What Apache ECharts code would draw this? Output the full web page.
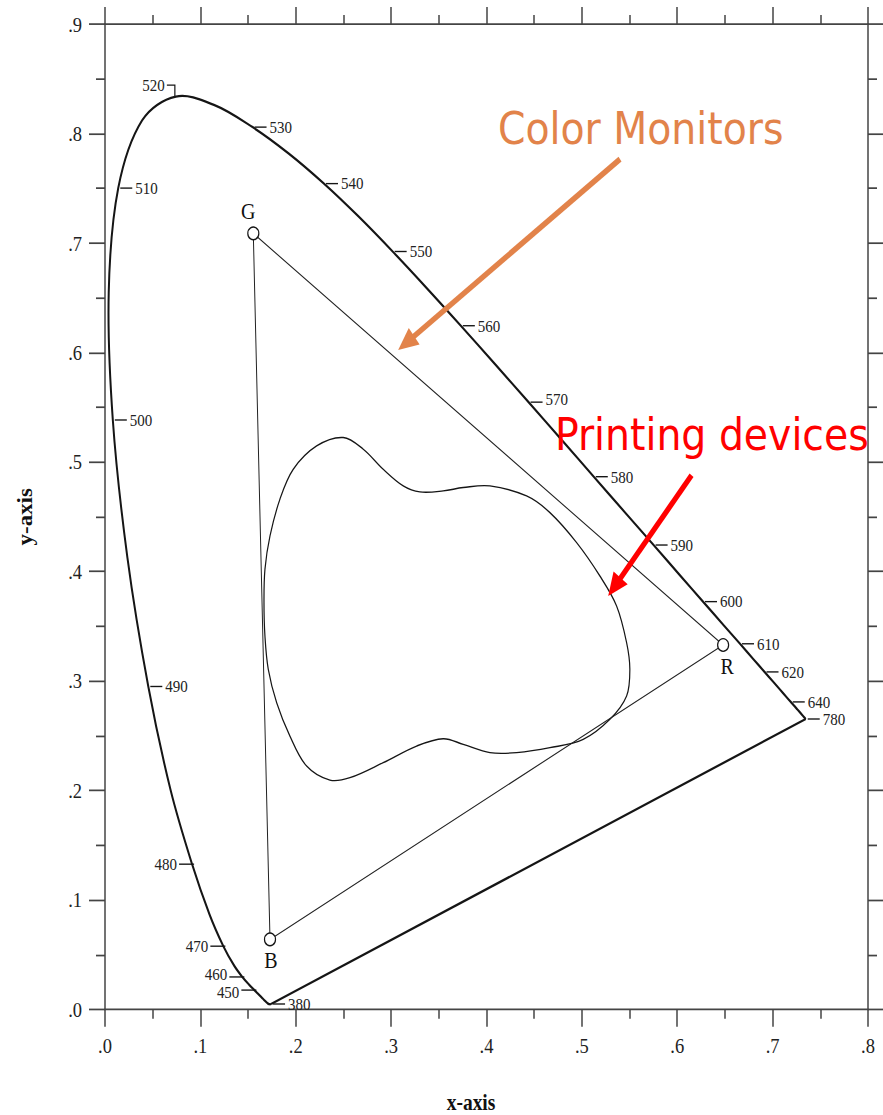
<!DOCTYPE html>
<html>
<head>
<meta charset="utf-8">
<script src="https://cdn.jsdelivr.net/npm/echarts@6/dist/echarts.min.js"></script>
<style>
  html, body { margin: 0; padding: 0; background: #fff; width: 883px; height: 1115px; overflow: hidden; }
  /* the diagram is drawn with square-ish units and stretched vertically */
  #chart { width: 883px; height: 972px; transform: scaleY(1.14712); transform-origin: 0 0; }
</style>
</head>
<body>
<div id="chart"></div>
<script>
// CIE 1931 spectral locus (chromaticity x, y by wavelength in nm)
const wavelengths = [380, 390, 400, 410, 420, 425, 430, 435, 440, 445, 450, 455, 460, 465, 470, 475, 480, 485, 490, 495,
  500, 505, 510, 515, 520, 525, 530, 535, 540, 545, 550, 555, 560, 565, 570, 575, 580, 585, 590, 595,
  600, 605, 610, 615, 620, 625, 630, 635, 640, 645, 650, 660, 680, 700, 780];
const locusX = [0.1741, 0.1738, 0.1733, 0.1726, 0.1714, 0.1703, 0.1689, 0.1669, 0.1644, 0.1611, 0.1566, 0.1510, 0.1440, 0.1355, 0.1241, 0.1096, 0.0913, 0.0687, 0.0454, 0.0235,
  0.0082, 0.0039, 0.0139, 0.0389, 0.0743, 0.1142, 0.1547, 0.1929, 0.2296, 0.2658, 0.3016, 0.3373, 0.3731, 0.4087, 0.4441, 0.4788, 0.5125, 0.5448, 0.5752, 0.6029,
  0.6270, 0.6482, 0.6658, 0.6801, 0.6915, 0.7006, 0.7079, 0.7140, 0.7190, 0.7230, 0.7260, 0.7300, 0.7334, 0.7347, 0.7347];
const locusY = [0.0050, 0.0049, 0.0048, 0.0048, 0.0051, 0.0058, 0.0069, 0.0086, 0.0109, 0.0138, 0.0177, 0.0227, 0.0297, 0.0399, 0.0578, 0.0868, 0.1327, 0.2007, 0.2950, 0.4127,
  0.5384, 0.6548, 0.7502, 0.8120, 0.8338, 0.8262, 0.8059, 0.7816, 0.7543, 0.7243, 0.6923, 0.6589, 0.6245, 0.5896, 0.5547, 0.5202, 0.4866, 0.4544, 0.4242, 0.3965,
  0.3725, 0.3514, 0.3340, 0.3197, 0.3083, 0.2993, 0.2920, 0.2859, 0.2809, 0.2770, 0.2740, 0.2700, 0.2666, 0.2653, 0.2653];

// wavelengths that carry a tick label on the locus
const labeledWavelengths = [380, 450, 460, 470, 480, 490, 500, 510, 520, 530, 540, 550, 560, 570, 580, 590, 600, 610, 620, 640, 780];

// monitor primaries
const rgbNames = ['G', 'R', 'B'];
const rgbX = [0.1555, 0.6481, 0.1730];
const rgbY = [0.7088, 0.3329, 0.0640];

// printing gamut outline (closed)
const printX = [0.1667, 0.1677, 0.1712, 0.1800, 0.1939, 0.2114, 0.2358, 0.2568, 0.2917, 0.3267, 0.3546, 0.3756, 0.4036, 0.4316, 0.4665, 0.5014, 0.5294, 0.5469, 0.5503,
  0.5469, 0.5364, 0.5189, 0.4945, 0.4665, 0.4420, 0.4036, 0.3756, 0.3546, 0.3302, 0.3127, 0.2917, 0.2708, 0.2498, 0.2219, 0.1974, 0.1834, 0.1730, 0.1677];
const printY = [0.3719, 0.3411, 0.3107, 0.2802, 0.2497, 0.2223, 0.2095, 0.2117, 0.2254, 0.2406, 0.2473, 0.2421, 0.2346, 0.2346, 0.2391, 0.2467, 0.2650, 0.2863, 0.3107,
  0.3351, 0.3685, 0.3959, 0.4264, 0.4538, 0.4690, 0.4782, 0.4767, 0.4736, 0.4727, 0.4782, 0.4934, 0.5117, 0.5224, 0.5147, 0.4934, 0.4660, 0.4325, 0.4020];

// axis tick labels
const xTickLabels = ['.0', '.1', '.2', '.3', '.4', '.5', '.6', '.7', '.8'];
const yTickLabels = ['.0', '.1', '.2', '.3', '.4', '.5', '.6', '.7', '.8', '.9'];

// ---- layout / styling ----
const SERIF = '"Liberation Serif", "Times New Roman", serif';
const SANS = '"DejaVu Sans", Verdana, sans-serif';
const AXIS_COLOR = '#444';
const INK = '#151515';

// which way each wavelength tick points (default: right) and small caption nudges
const tickSide = { 450: 'left', 460: 'left', 470: 'left', 480: 'left', 520: 'up' };
const tickNudge = { 450: 1.5, 460: -2.5, 570: -3 };

// placement of the G / R / B captions
const rgbLabel = {
  G: { position: 'top', distance: 3, offset: [-5, 0] },
  R: { position: 'bottom', distance: 3, offset: [4, 0] },
  B: { position: 'bottom', distance: 2, offset: [1, 0] }
};

// callouts: caption anchor, arrow tail and arrow tip (in chart units)
const notes = [
  { text: 'Color Monitors', color: '#E2834A', at: [0.412, 0.805], from: [0.540, 0.7767], to: [0.3074, 0.6024] },
  { text: 'Printing devices', color: '#FF0000', at: [0.4717, 0.5255], from: [0.615, 0.4879], to: [0.5276, 0.3777] }
];

const lineStyleAxis = { color: AXIS_COLOR, width: 1.5 };

function xAxisCfg(pos) {
  return {
    type: 'value', min: 0, max: 0.8, interval: 0.1, position: pos,
    axisLine: { show: true, onZero: false, lineStyle: lineStyleAxis },
    axisTick: { show: true, length: 15, lineStyle: lineStyleAxis },
    minorTick: { show: true, splitNumber: 2, length: 8, lineStyle: lineStyleAxis },
    splitLine: { show: false },
    axisLabel: pos === 'bottom' ? {
      show: true, margin: 22, fontFamily: SERIF, fontSize: 18.5, color: '#222',
      formatter: v => xTickLabels[Math.round(v * 10)]
    } : { show: false }
  };
}
function yAxisCfg(pos) {
  return {
    type: 'value', min: 0, max: 0.9, interval: 0.1, position: pos,
    axisLine: { show: true, onZero: false, lineStyle: lineStyleAxis },
    axisTick: { show: true, length: 16, lineStyle: lineStyleAxis },
    minorTick: { show: true, splitNumber: 2, length: 9, lineStyle: lineStyleAxis },
    splitLine: { show: false },
    axisLabel: pos === 'left' ? {
      show: true, margin: 23, fontFamily: SERIF, fontSize: 18.5, color: '#222',
      formatter: v => yTickLabels[Math.round(v * 10)]
    } : { show: false }
  };
}

const xMain = xAxisCfg('bottom');
xMain.name = 'x-axis';
xMain.nameLocation = 'middle';
xMain.nameGap = 71;
xMain.nameTextStyle = { fontFamily: SERIF, fontWeight: 'bold', fontSize: 19.5, color: '#111', padding: [0, 31, 0, 0] };

const yMain = yAxisCfg('left');
yMain.name = 'y-axis';
yMain.nameLocation = 'middle';
yMain.nameGap = 70;
yMain.nameTextStyle = { fontFamily: SERIF, fontWeight: 'bold', fontSize: 20, color: '#111' };

const last = wavelengths.length - 1;
const purpleLine = [[locusX[0], locusY[0]], [locusX[last], locusY[last]]];
const triangle = [0, 1, 2, 0].map(i => [rgbX[i], rgbY[i]]);
const tickData = labeledWavelengths.map(w => {
  const i = wavelengths.indexOf(w);
  return [locusX[i], locusY[i], w];
});

// smooth open curve through the spectral locus samples
function renderLocus(params, api) {
  if (params.dataIndex !== 0) return null;
  const pts = locusX.map((x, i) => api.coord([x, locusY[i]]));
  return {
    type: 'polyline',
    shape: { points: pts, smooth: 0.35 },
    style: { fill: null, stroke: INK, lineWidth: 2, lineJoin: 'round' }
  };
}

function renderTick(params, api) {
  const p = api.coord([api.value(0), api.value(1)]);
  const w = api.value(2);
  const side = tickSide[w] || 'right';
  const nudge = tickNudge[w] || 0;
  let pts, tx, ty, align;
  if (side === 'left') {
    pts = [[p[0] + 2, p[1]], [p[0] - 13, p[1]]];
    tx = p[0] - 15; ty = p[1] + nudge; align = 'right';
  } else if (side === 'up') {
    pts = [[p[0] - 1, p[1]], [p[0] - 1, p[1] - 10], [p[0] - 9, p[1] - 10]];
    tx = p[0] - 11; ty = p[1] - 10; align = 'right';
  } else {
    pts = [[p[0] + 2, p[1]], [p[0] + 14, p[1]]];
    tx = p[0] + 17; ty = p[1] + nudge; align = 'left';
  }
  return {
    type: 'group',
    children: [
      { type: 'polyline', shape: { points: pts }, style: { stroke: INK, lineWidth: 1.2, fill: null } },
      { type: 'text', style: { text: String(w), x: tx, y: ty, align: align, verticalAlign: 'middle',
          fontFamily: SERIF, fontSize: 15, fill: '#222' } }
    ]
  };
}

function renderGamut(params, api) {
  if (params.dataIndex !== 0) return null;
  const pts = printX.map((x, i) => api.coord([x, printY[i]]));
  return {
    type: 'polygon',
    shape: { points: pts, smooth: 0.35 },
    style: { fill: null, stroke: INK, lineWidth: 1.2 }
  };
}

function renderNote(params, api) {
  const n = notes[params.dataIndex];
  const a = api.coord(n.at);
  const p1 = api.coord(n.from);
  const p2 = api.coord(n.to);
  const dx = p2[0] - p1[0], dy = p2[1] - p1[1];
  const len = Math.hypot(dx, dy);
  const ux = dx / len, uy = dy / len;
  const headLen = 20, headHalf = 9;
  const bx = p2[0] - ux * headLen, by = p2[1] - uy * headLen;
  return {
    type: 'group',
    children: [
      { type: 'line', shape: { x1: p1[0], y1: p1[1], x2: bx + ux * 2, y2: by + uy * 2 },
        style: { stroke: n.color, lineWidth: 5 } },
      { type: 'polygon', shape: { points: [[p2[0], p2[1]], [bx - uy * headHalf, by + ux * headHalf], [bx + uy * headHalf, by - ux * headHalf]] },
        style: { fill: n.color } },
      { type: 'text', style: { text: n.text, x: a[0], y: a[1], align: 'left', verticalAlign: 'middle',
          fontFamily: SANS, fontSize: 39.4, fill: n.color } }
    ]
  };
}

const chart = echarts.init(document.getElementById('chart'), null, { renderer: 'svg' });
chart.setOption({
  animation: false,
  backgroundColor: '#fff',
  grid: { left: 105, right: 15, top: 21, bottom: 92, containLabel: false, outerBoundsMode: 'none' },
  xAxis: [xMain, xAxisCfg('top')],
  yAxis: [yMain, yAxisCfg('right')],
  series: [
    { name: 'locus', type: 'custom', data: [[locusX[0], locusY[0]]], renderItem: renderLocus, z: 3 },
    { name: 'purple line', type: 'line', data: purpleLine, symbol: 'none',
      lineStyle: { color: INK, width: 2 }, z: 3 },
    { name: 'monitor gamut', type: 'line', data: triangle, symbol: 'none',
      lineStyle: { color: '#222', width: 1 }, z: 2 },
    { name: 'printer gamut', type: 'custom', data: [[printX[0], printY[0]]], renderItem: renderGamut, z: 2 },
    { name: 'primaries', type: 'scatter', z: 5,
      data: rgbNames.map((n, i) => ({ name: n, value: [rgbX[i], rgbY[i]], label: rgbLabel[n] })),
      symbol: 'circle', symbolSize: 11,
      itemStyle: { color: '#fff', borderColor: INK, borderWidth: 1.2, opacity: 1 },
      label: { show: true, formatter: '{b}', fontFamily: SERIF, fontSize: 20, color: '#111' } },
    { name: 'wavelength ticks', type: 'custom', data: tickData, renderItem: renderTick, z: 4 },
    { name: 'callouts', type: 'custom', data: notes.map(n => n.at), renderItem: renderNote, z: 6 }
  ]
});
</script>
</body>
</html>
